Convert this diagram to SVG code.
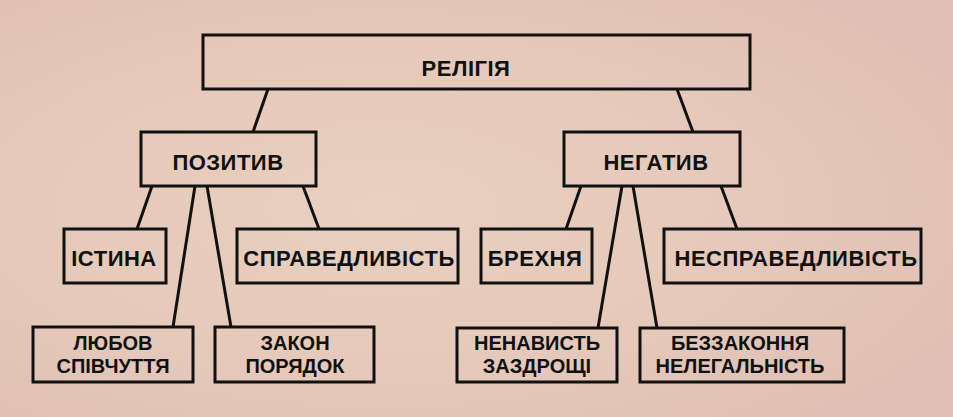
<svg xmlns="http://www.w3.org/2000/svg" width="953" height="417" viewBox="0 0 953 417">
<defs>
<radialGradient id="bg" cx="0.4" cy="0.5" r="0.7">
<stop offset="0" stop-color="#e9d0bf"/>
<stop offset="0.6" stop-color="#e5c8b9"/>
<stop offset="1" stop-color="#dfbfb3"/>
</radialGradient>
<style>
.box{fill:none;stroke:#111;stroke-width:3}
.t{font-family:"Liberation Sans",Arial,sans-serif;font-weight:bold;fill:#111;text-anchor:middle}
.big{font-size:22px;letter-spacing:0.5px}
.sm{font-size:20px}
.c{stroke:#111;stroke-width:3;fill:none;stroke-linecap:butt}
</style>
</defs>
<rect width="953" height="417" fill="url(#bg)"/>
<g id="connectors">
<line class="c" x1="268" y1="89" x2="253" y2="132"/>
<line class="c" x1="677" y1="89" x2="693" y2="132"/>
<line class="c" x1="152" y1="186" x2="137" y2="229"/>
<line class="c" x1="195" y1="186" x2="173" y2="327"/>
<line class="c" x1="207" y1="186" x2="231" y2="327"/>
<line class="c" x1="303" y1="186" x2="319" y2="229"/>
<line class="c" x1="581" y1="186" x2="566" y2="229"/>
<line class="c" x1="622" y1="186" x2="598" y2="328"/>
<line class="c" x1="633" y1="186" x2="657" y2="328"/>
<line class="c" x1="721" y1="186" x2="737" y2="229"/>
</g>
<g id="religion">
<rect class="box" x="203" y="35" width="547" height="54"/>
<text class="t big" x="466" y="76">РЕЛІГІЯ</text>
</g>
<g id="positive">
<rect class="box" x="141" y="132" width="175" height="54"/>
<text class="t big" x="228" y="170">ПОЗИТИВ</text>
</g>
<g id="negative">
<rect class="box" x="564" y="132" width="176" height="54"/>
<text class="t big" x="656" y="170">НЕГАТИВ</text>
</g>
<g id="truth">
<rect class="box" x="64" y="229" width="102" height="54"/>
<text class="t big" x="114" y="266">ІСТИНА</text>
</g>
<g id="justice">
<rect class="box" x="237" y="229" width="221" height="54"/>
<text class="t big" x="349" y="266">СПРАВЕДЛИВІСТЬ</text>
</g>
<g id="lie">
<rect class="box" x="481" y="229" width="111" height="54"/>
<text class="t big" x="535" y="266">БРЕХНЯ</text>
</g>
<g id="injustice">
<rect class="box" x="664" y="229" width="257" height="54"/>
<text class="t big" x="796" y="266">НЕСПРАВЕДЛИВІСТЬ</text>
</g>
<g id="love">
<rect class="box" x="33" y="327" width="160" height="55"/>
<text class="t sm" x="113" y="350">ЛЮБОВ</text>
<text class="t sm" x="113" y="373">СПІВЧУТТЯ</text>
</g>
<g id="law">
<rect class="box" x="215" y="327" width="159" height="55"/>
<text class="t sm" x="295" y="350">ЗАКОН</text>
<text class="t sm" x="295" y="373">ПОРЯДОК</text>
</g>
<g id="hate">
<rect class="box" x="457" y="328" width="160" height="54"/>
<text class="t sm" x="537" y="350">НЕНАВИСТЬ</text>
<text class="t sm" x="537" y="373">ЗАЗДРОЩІ</text>
</g>
<g id="lawless">
<rect class="box" x="640" y="328" width="204" height="54"/>
<text class="t sm" x="740" y="350">БЕЗЗАКОННЯ</text>
<text class="t sm" x="740" y="373">НЕЛЕГАЛЬНІСТЬ</text>
</g>
</svg>
